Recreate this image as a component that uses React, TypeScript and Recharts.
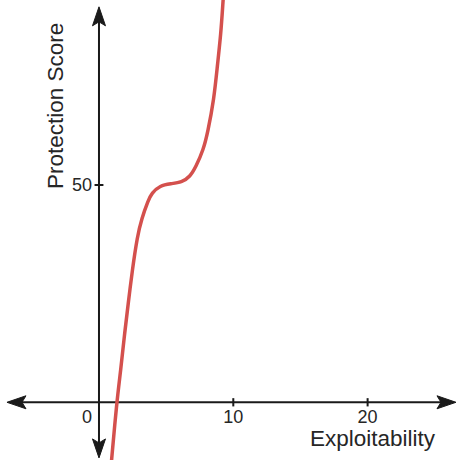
import React from 'react';
import { LineChart, Line, XAxis, YAxis, ReferenceLine, ReferenceDot } from 'recharts';

const exploitability = [0.9, 1.32, 1.62, 1.88, 2.18, 2.48, 2.85, 3.18, 3.67, 3.92, 4.54, 5.35, 6.16, 6.78, 7.22, 7.77, 8.09, 8.56, 8.81, 9.08, 9.21, 9.35];
const protectionScore = [-14.6, 0, 7.4, 15.1, 22.8, 30.4, 38.1, 42.3, 46.5, 48.1, 49.9, 50.3, 50.6, 51.9, 54.2, 58.1, 62.0, 69.7, 77.3, 85.0, 91.1, 97.5];
const xTicks = [0, 10, 20];
const yTicks = [50];
const xAxisLabel = 'Exploitability';
const yAxisLabel = 'Protection Score';

const data = exploitability.map((x, i) => ({ x, y: protectionScore[i] }));

const X_DOMAIN: [number, number] = [-7.37, 26.73];
const Y_DOMAIN: [number, number] = [-13.28, 92.57];
const X_AXIS_ENDS: [number, number] = [-6.85, 26.58];
const Y_AXIS_ENDS: [number, number] = [-12.8, 91.0];

const FONT = '"Liberation Sans", Arial, sans-serif';
const AXIS_COLOR = '#1a1a1a';
const TEXT_COLOR = '#262626';

const ArrowAxis = (props: any) => {
  const { x1, y1, x2, y2 } = props;
  const dx = x2 - x1;
  const dy = y2 - y1;
  const len = Math.hypot(dx, dy) || 1;
  const ux = dx / len;
  const uy = dy / len;
  const px = -uy;
  const py = ux;
  const L = 19;
  const W = 6.5;
  const N = 15;
  const head = (tx: number, ty: number, s: number) => {
    const bx = tx - s * ux * L;
    const by = ty - s * uy * L;
    const nx = tx - s * ux * N;
    const ny = ty - s * uy * N;
    return `M${tx},${ty} L${bx + px * W},${by + py * W} L${nx},${ny} L${bx - px * W},${by - py * W} Z`;
  };
  return (
    <g>
      <line
        x1={x1 + ux * 10}
        y1={y1 + uy * 10}
        x2={x2 - ux * 10}
        y2={y2 - uy * 10}
        stroke={AXIS_COLOR}
        strokeWidth={2}
      />
      <path d={head(x1, y1, -1)} fill={AXIS_COLOR} stroke={AXIS_COLOR} strokeWidth={1} strokeLinejoin="round" />
      <path d={head(x2, y2, 1)} fill={AXIS_COLOR} stroke={AXIS_COLOR} strokeWidth={1} strokeLinejoin="round" />
    </g>
  );
};

export default function App() {
  return (
    <div style={{ position: 'absolute', left: 0, top: 0, width: 458, height: 460, background: '#fff' }}>
      <LineChart width={458} height={460} data={data} margin={{ top: 0, right: 0, bottom: 0, left: 0 }}>
        <XAxis type="number" dataKey="x" domain={X_DOMAIN} allowDataOverflow hide />
        <YAxis type="number" dataKey="y" domain={Y_DOMAIN} allowDataOverflow hide />
        <ReferenceLine
          segment={[{ x: X_AXIS_ENDS[0], y: 0 }, { x: X_AXIS_ENDS[1], y: 0 }]}
          shape={ArrowAxis}
          ifOverflow="visible"
        />
        <ReferenceLine
          segment={[{ x: 0, y: Y_AXIS_ENDS[0] }, { x: 0, y: Y_AXIS_ENDS[1] }]}
          shape={ArrowAxis}
          ifOverflow="visible"
        />
        {xTicks.filter((t) => t !== 0).map((t) => (
          <ReferenceLine
            key={`xt${t}`}
            segment={[{ x: t, y: -0.95 }, { x: t, y: 0.95 }]}
            stroke={AXIS_COLOR}
            strokeWidth={2}
          />
        ))}
        {yTicks.map((t) => (
          <ReferenceLine
            key={`yt${t}`}
            segment={[{ x: -0.33, y: t }, { x: 0.33, y: t }]}
            stroke={AXIS_COLOR}
            strokeWidth={2}
          />
        ))}
        {xTicks.map((t) => (
          <ReferenceDot
            key={`xl${t}`}
            x={t}
            y={0}
            r={0}
            ifOverflow="visible"
            shape={(p: any) => (
              <text
                x={p.cx + (t === 0 ? -12 : 0)}
                y={p.cy + 21}
                textAnchor="middle"
                fontFamily={FONT}
                fontSize={18}
                fill={TEXT_COLOR}
              >
                {t}
              </text>
            )}
          />
        ))}
        {yTicks.map((t) => (
          <ReferenceDot
            key={`yl${t}`}
            x={0}
            y={t}
            r={0}
            ifOverflow="visible"
            shape={(p: any) => (
              <text
                x={p.cx - 7}
                y={p.cy + 6.5}
                textAnchor="end"
                fontFamily={FONT}
                fontSize={18}
                fill={TEXT_COLOR}
              >
                {t}
              </text>
            )}
          />
        ))}
        <ReferenceDot
          x={X_AXIS_ENDS[1]}
          y={0}
          r={0}
          ifOverflow="visible"
          shape={(p: any) => (
            <text
              x={p.cx - 21}
              y={p.cy + 44}
              textAnchor="end"
              fontFamily={FONT}
              fontSize={22.5}
              fill={TEXT_COLOR}
            >
              {xAxisLabel}
            </text>
          )}
        />
        <ReferenceDot
          x={0}
          y={Y_AXIS_ENDS[1]}
          r={0}
          ifOverflow="visible"
          shape={(p: any) => (
            <text
              transform={`translate(${p.cx - 36},${p.cy + 99}) rotate(-90)`}
              textAnchor="middle"
              fontFamily={FONT}
              fontSize={22.5}
              fill={TEXT_COLOR}
            >
              {yAxisLabel}
            </text>
          )}
        />
        <Line
          type="basis"
          dataKey="y"
          stroke="#d4504d"
          strokeWidth={3.5}
          dot={false}
          activeDot={false}
          isAnimationActive={false}
        />
      </LineChart>
    </div>
  );
}
